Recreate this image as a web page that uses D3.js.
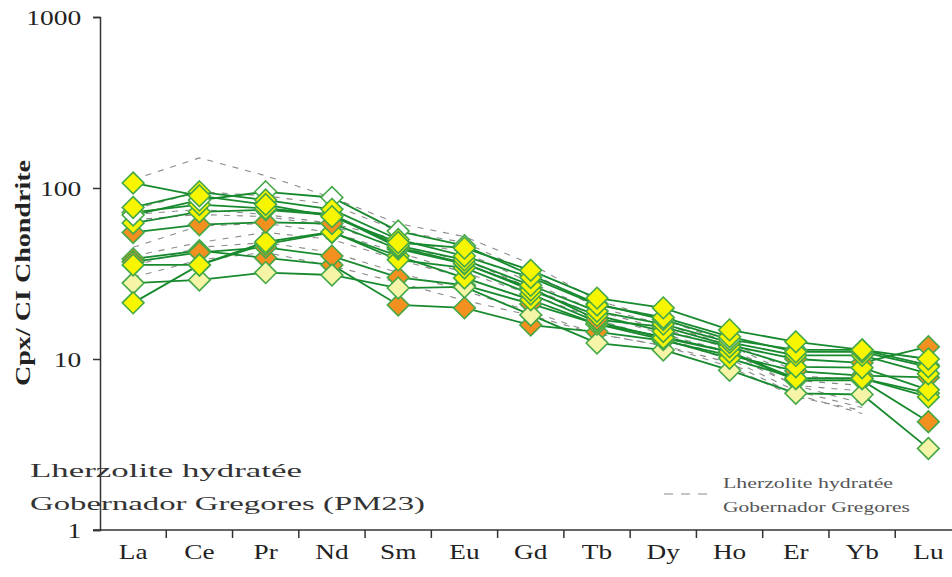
<!DOCTYPE html>
<html><head><meta charset="utf-8">
<script src="https://cdn.jsdelivr.net/npm/d3@7"></script>
<style>body{margin:0;background:#fff}svg{display:block}</style>
</head><body><svg id="c" width="952" height="577"></svg>
<script>
const elements = ["La","Ce","Pr","Nd","Sm","Eu","Gd","Tb","Dy","Ho","Er","Yb","Lu"];
const yTicks = [1, 10, 100, 1000];

// Cpx samples (green lines with diamonds)
const sampleY1 = [107, 90, 80, 68, 48, 44.5, 33, 22.7, 19.9, 14.8, 12.6, 11.3, 10];
const sampleY2 = [77, 95, 85, 75, 50, 40, 30, 20.7, 17.5, 13.5, 11, 11, 9];
const sampleY6 = [72, 80, 76, 70, 46, 38, 27, 19, 16, 12.5, 10.5, 10.5, 8.2];
const sampleW1 = [69.5, 85, 95, 88, 56, 46, 31, 21, 17, 13, 11.3, 11.3, 9.2];
const sampleY3 = [62.4, 72.6, 74.6, 69.5, 45, 36.4, 25.3, 18, 14.5, 11.8, 9, 8.9, 6.6];
const sampleO1 = [55, 61, 63, 62, 44, 36, 26, 17, 15.4, 12, 10, 9.5, 11.8];
const sampleO3 = [37, 42, 45, 40, 30, 27, 21, 16, 13.5, 11, 7.5, 7.5, 4.3];
const sampleO2 = [38.5, 43, 39, 35.5, 20.7, 19.9, 15.8, 14.4, 12.8, 10.5, 8.5, 8, 7.8];
const sampleY4 = [35.5, 35.5, 48.4, 55.3, 38, 34.1, 24, 16.5, 13.3, 11, 7.7, 7.7, 6.0];
const sampleP1 = [27.8, 29, 32, 31, 26, 26.4, 18.1, 12.4, 11.3, 8.6, 6.3, 6.2, 3.0];
const sampleY5 = [21.3, 35.5, 47, 55, 40, 29.8, 22.2, 16, 13, 10.1, 7.7, 7.7, 6.3];

const samples = [
  {v: sampleO2, fill: "#f39020"},
  {v: sampleO3, fill: "#f39020"},
  {v: sampleP1, fill: "#f6f4a6"},
  {v: sampleY5, fill: "#f8f500"},
  {v: sampleY4, fill: "#f8f500"},
  {v: sampleO1, fill: "#f39020"},
  {v: sampleY3, fill: "#f8f500"},
  {v: sampleY6, fill: "#f8f500"},
  {v: sampleW1, fill: "#ffffff"},
  {v: sampleY2, fill: "#f8f500"},
  {v: sampleY1, fill: "#f8f500"}
];

// Reference field: Lherzolite hydratée Gobernador Gregores (grey dashed)
const ref1 = [112, 150, 118, 88, 62, 52, 36, 22, 17, 12.5, 8.5, 8];
const ref2 = [75, 95, 90, 80, 56, 48, 32, 20, 16, 12, 8, 7.5];
const ref3 = [70, 75, 70, 62, 50, 42, 28, 19, 15, 11.5, 7.5, 7];
const ref4 = [65, 70, 68, 60, 45, 38, 26, 18, 14, 11, 7, 6.5];
const ref5 = [45, 60, 62, 55, 42, 32, 24, 17, 13, 10.5, 7, 5.5];
const ref6 = [40, 48, 55, 50, 38, 30, 22, 16, 13, 10, 6.5, 5.2];
const ref7 = [35, 45, 48, 42, 32, 25, 19, 14, 12, 9.5, 6.2, 4.8];
const ref8 = [30, 38, 42, 35, 28, 22, 18, 14, 12, 9, 6, 5];
const refs = [ref1, ref2, ref3, ref4, ref5, ref6, ref7, ref8];

const FONT = "'Liberation Serif', 'Times New Roman', serif";
const svg = d3.select("#c");
const x = d3.scaleBand().domain(elements).range([100, 961.5]);
const y = d3.scaleLog().domain([1, 1000]).range([530, 17]);
const cx = d => x(d) + x.bandwidth() / 2;

// reference dashed lines
const refLine = d3.line().x((d, i) => cx(elements[i])).y(d => y(d));
svg.append("g").selectAll("path").data(refs).join("path")
  .attr("d", refLine).attr("fill", "none").attr("stroke", "#8a8a8a")
  .attr("stroke-width", 1.1).attr("stroke-dasharray", "6,7");

// sample lines
svg.append("g").selectAll("path").data(samples).join("path")
  .attr("d", s => refLine(s.v)).attr("fill", "none").attr("stroke", "#188a2e")
  .attr("stroke-width", 1.8);

// markers
const diamond = d3.symbol().type(d3.symbolDiamond2).size(300);
samples.forEach(s => {
  svg.append("g").selectAll("path").data(s.v).join("path")
    .attr("transform", (d, i) => `translate(${cx(elements[i])},${y(d)})`)
    .attr("d", diamond).attr("fill", s.fill).attr("stroke", "#45a848").attr("stroke-width", 1.6);
});

// axes
const yAxis = d3.axisLeft(y).tickValues(yTicks).tickFormat(d3.format("d")).tickSize(7).tickPadding(6);
const ga = svg.append("g").attr("transform", "translate(100,0)").call(yAxis);
ga.select(".domain").attr("stroke", "#333").attr("stroke-width", 1.5);
ga.selectAll(".tick line").attr("stroke", "#333").attr("stroke-width", 1.5);
ga.selectAll("text").attr("font-family", FONT).attr("font-size", 22).attr("fill", "#222")
  .attr("x", -15).attr("dy", "0.34em")
  .attr("transform", "scale(1.25,1)");

const xAxis = d3.axisBottom(x).tickSize(0).tickPadding(14);
const gx = svg.append("g").attr("transform", "translate(0,530)").call(xAxis);
gx.select(".domain").attr("stroke", "#333").attr("stroke-width", 1.5).attr("d", "M93,0H952");
gx.selectAll("text").attr("font-family", FONT).attr("font-size", 21).attr("fill", "#222")
  .attr("transform", "scale(1.3,1)");
// boundary ticks
svg.append("g").selectAll("line").data(elements.slice(1)).join("line")
  .attr("x1", d => x(d)).attr("x2", d => x(d)).attr("y1", 530).attr("y2", 538)
  .attr("stroke", "#333").attr("stroke-width", 1.5);

// y label
svg.append("text").attr("transform", "translate(30,273) rotate(-90)")
  .attr("text-anchor", "middle").attr("font-family", FONT)
  .attr("font-weight", "bold").attr("font-size", 22).attr("fill", "#222")
  .attr("textLength", 226).attr("lengthAdjust", "spacingAndGlyphs")
  .text("Cpx/ CI Chondrite");

// annotation
function label(xp, yp, txt, size, len, col) {
  svg.append("text").attr("x", xp).attr("y", yp).attr("font-family", FONT)
    .attr("font-size", size).attr("fill", col)
    .attr("textLength", len).attr("lengthAdjust", "spacingAndGlyphs").text(txt);
}
label(30, 477, "Lherzolite hydratée", 19, 272, "#333");
label(30, 510, "Gobernador Gregores (PM23)", 19, 395, "#333");

// legend
svg.append("line").attr("x1", 664).attr("x2", 710).attr("y1", 494).attr("y2", 494)
  .attr("stroke", "#8a8a8a").attr("stroke-width", 1.1).attr("stroke-dasharray", "9,8");
label(723, 488, "Lherzolite hydratée", 15.5, 170, "#555");
label(723, 512, "Gobernador Gregores", 15.5, 187, "#555");
</script></body></html>
